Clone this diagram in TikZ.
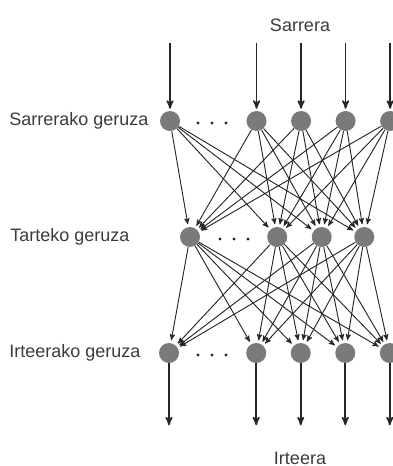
\documentclass[tikz,border=0pt]{standalone}
\usepackage{fontspec}
\setmainfont{Liberation Sans}
\usetikzlibrary{positioning, arrows}
\definecolor{nodegray}{RGB}{122,122,122}
\definecolor{linegray}{RGB}{38,38,38}
\definecolor{textgray}{RGB}{60,60,60}
\tikzset {
    >=stealth',
    x=0.75pt, y=-0.75pt,
    node distance=18pt,
    neuron/.style={circle, fill=nodegray, minimum size=15pt, inner sep=0pt},
    layer/.style={font=\fontsize{13.5}{16}\selectfont, text=textgray, inner sep=0pt},
    link/.style={->, draw=linegray, line width=0.7pt, shorten >=2pt},
    io/.style={->, draw=linegray, line width=1.2pt, shorten >=1.5pt}
}

\begin{document}
\begin{tikzpicture}
    \useasboundingbox (0,0) rectangle (392,466);

    % sarrerako geruza
    \node[neuron] (i1) at (170,121) {};
    \node[neuron, right=49.5pt of i1] (i2) {};
    \node[neuron, right=of i2] (i3) {};
    \node[neuron, right=of i3] (i4) {};
    \node[neuron, right=of i4] (i5) {};

    % tarteko geruza
    \node[neuron] (h1) at (190,237) {};
    \node[neuron, right=50pt of h1] (h2) {};
    \node[neuron, right=of h2] (h3) {};
    \node[neuron, right=16.5pt of h3] (h4) {};

    % irteerako geruza
    \node[neuron] (o1) at (169,353) {};
    \node[neuron, right=50pt of o1] (o2) {};
    \node[neuron, right=of o2] (o3) {};
    \node[neuron, right=of o3] (o4) {};
    \node[neuron, right=of o4] (o5) {};

    \node[layer, anchor=west] (lin) at (9,121) {Sarrerako geruza};
    \node[layer, anchor=west] (lhid) at (10,237) {Tarteko geruza};
    \node[layer, anchor=west] (lout) at (9,353) {Irteerako geruza};
    \node[layer] (sarrera) at (300,25) {Sarrera};
    \node[layer] (irteera) at (300,458) {Irteera};

    % puntuak
    \foreach \dx in {-14,0,14} {
        \fill[linegray] (212+\dx,123) circle (1.3pt);
        \fill[linegray] (234+\dx,239) circle (1.3pt);
        \fill[linegray] (212+\dx,355) circle (1.3pt);
    }

    \foreach \n in {1,...,5} {
        \coordinate[above=51pt of i\n] (s\n);
        \coordinate[below=48pt of o\n] (e\n);
        \draw[io] (s\n) -- (i\n);
        \draw[io] (o\n) -- (e\n);
    }

    \foreach \a in {1,...,5}
        \foreach \b in {1,...,4} {
            \draw[link] (i\a) -- (h\b);
            \draw[link] (h\b) -- (o\a);
        }
\end{tikzpicture}
\end{document}
